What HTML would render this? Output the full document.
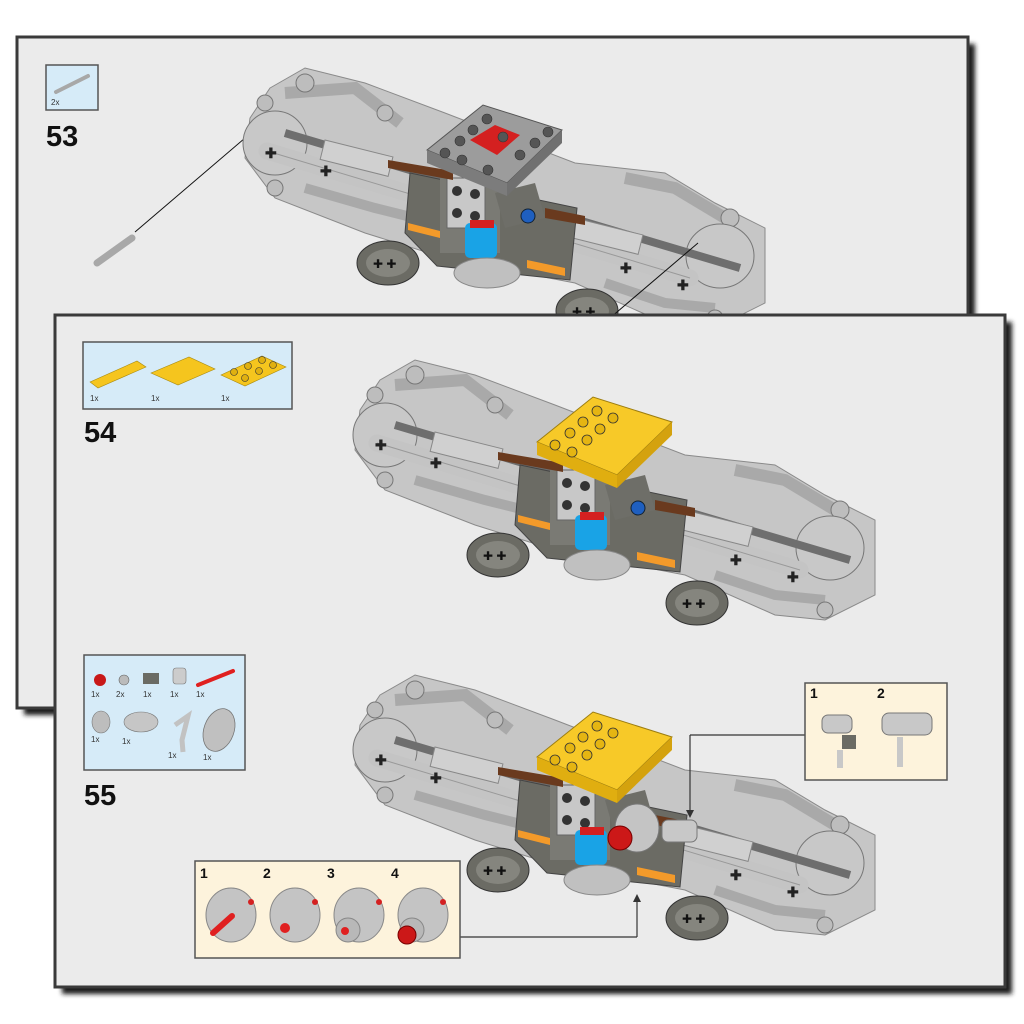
<!DOCTYPE html>
<html><head><meta charset="utf-8"><style>
html,body{margin:0;padding:0;background:#fff;}
svg{display:block;}
text{font-family:"Liberation Sans",Arial,sans-serif;}
</style></head><body>
<svg width="1024" height="1024" viewBox="0 0 1024 1024" xmlns="http://www.w3.org/2000/svg">
<defs>
<filter id="sh" x="-5%" y="-5%" width="115%" height="115%"><feGaussianBlur stdDeviation="2.5"/></filter>
<g id="model">
  <polygon points="25,20 60,0 120,15 200,45 330,95 420,105 470,135 520,160 520,235 470,260 420,255 330,215 200,190 120,165 30,130 0,90 5,50" fill="#c6c6c6" stroke="#8a8a8a" stroke-width="1"/>
  <polyline points="40,25 110,20 155,55" fill="none" stroke="#a9a9a9" stroke-width="12"/>
  <polyline points="380,110 430,120 480,150" fill="none" stroke="#a9a9a9" stroke-width="12"/>
  <polyline points="60,120 130,140 170,150" fill="none" stroke="#a9a9a9" stroke-width="10"/>
  <polyline points="360,215 420,235 470,240" fill="none" stroke="#a9a9a9" stroke-width="10"/>
  <circle cx="60" cy="15" r="9" fill="#bdbdbd" stroke="#777"/><circle cx="20" cy="35" r="8" fill="#bdbdbd" stroke="#777"/>
  <circle cx="140" cy="45" r="8" fill="#bdbdbd" stroke="#777"/><circle cx="30" cy="120" r="8" fill="#bdbdbd" stroke="#777"/>
  <circle cx="470" cy="250" r="8" fill="#bdbdbd" stroke="#777"/><circle cx="485" cy="150" r="9" fill="#bdbdbd" stroke="#777"/>
  <ellipse cx="30" cy="75" rx="32" ry="32" fill="#c8c8c8" stroke="#777" stroke-width="1"/>
  <ellipse cx="475" cy="188" rx="34" ry="32" fill="#c8c8c8" stroke="#777" stroke-width="1"/>
  <line x1="40" y1="65" x2="495" y2="200" stroke="#6e6e6e" stroke-width="8"/>
  <line x1="22" y1="83" x2="445" y2="210" stroke="#c4c4c4" stroke-width="17" stroke-linecap="round"/>
  <line x1="22" y1="83" x2="445" y2="210" stroke="#999" stroke-width="1"/>
  <rect x="80" y="72" width="70" height="20" fill="#d0d0d0" stroke="#888" transform="rotate(14 80 72)"/>
  <rect x="330" y="150" width="70" height="20" fill="#d0d0d0" stroke="#888" transform="rotate(14 330 150)"/>
  <text x="20" y="90" font-size="14" font-weight="bold" fill="#222">✚</text>
  <text x="75" y="108" font-size="14" font-weight="bold" fill="#222">✚</text>
  <text x="375" y="205" font-size="14" font-weight="bold" fill="#222">✚</text>
  <text x="432" y="222" font-size="14" font-weight="bold" fill="#222">✚</text>
  <polygon points="165,105 332,140 325,212 192,198 160,165" fill="#6b6b64" stroke="#444" stroke-width="1"/>
  <rect x="195" y="110" width="60" height="75" fill="#7a7a74"/>
  <rect x="202" y="110" width="38" height="50" fill="#c8c8c8" stroke="#666"/>
  <circle cx="212" cy="123" r="5" fill="#333"/><circle cx="230" cy="126" r="5" fill="#333"/>
  <circle cx="212" cy="145" r="5" fill="#333"/><circle cx="230" cy="148" r="5" fill="#333"/>
  <polygon points="250,125 290,115 300,150 260,160" fill="#6e6e68"/>
  <circle cx="283" cy="148" r="7" fill="#1f5fbf" stroke="#123"/>
  <polygon points="143,92 208,103 208,112 143,100" fill="#6a3a1e"/>
  <polygon points="300,140 340,148 340,157 300,150" fill="#6a3a1e"/>
  <polygon points="163,155 195,163 195,170 163,162" fill="#f39a2a"/>
  <polygon points="282,192 320,200 320,208 282,200" fill="#f39a2a"/>
  <rect x="220" y="155" width="32" height="35" rx="5" fill="#19a3e6"/>
  <rect x="225" y="152" width="24" height="8" fill="#d42020"/>
  <ellipse cx="242" cy="205" rx="33" ry="15" fill="#c0c0c0" stroke="#888"/>
  <ellipse cx="143" cy="195" rx="31" ry="22" fill="#6b6b64" stroke="#333"/>
  <ellipse cx="143" cy="195" rx="22" ry="14" fill="#85857e"/>
  <ellipse cx="342" cy="243" rx="31" ry="22" fill="#6b6b64" stroke="#333"/>
  <ellipse cx="342" cy="243" rx="22" ry="14" fill="#85857e"/>
  <text x="128" y="200" font-size="12" fill="#111">✚ ✚</text>
  <text x="327" y="248" font-size="12" fill="#111">✚ ✚</text>
</g>
</defs>

<!-- PAGE 1 -->
<rect x="24" y="44" width="951" height="671" fill="#1a1a1a" filter="url(#sh)"/>
<rect x="17" y="37" width="951" height="671" fill="#ebebeb" stroke="#3a3a3a" stroke-width="3"/>
<rect x="46" y="65" width="52" height="45" fill="#d6ebf8" stroke="#555" stroke-width="1.5"/>
<line x1="56" y1="92" x2="88" y2="76" stroke="#a8a8a8" stroke-width="4" stroke-linecap="round"/>
<text x="51" y="105" font-size="8" fill="#333">2x</text>
<text x="46" y="146" font-size="29" font-weight="bold" fill="#111">53</text>
<line x1="97" y1="263" x2="132" y2="238" stroke="#a8a8a8" stroke-width="7" stroke-linecap="round"/>
<line x1="135" y1="232" x2="272" y2="115" stroke="#111" stroke-width="1"/>
<use href="#model" transform="translate(245,68)"/>
<polygon points="427,150 483,105 562,130 507,183" fill="#9c9c9c" stroke="#555"/>
<polygon points="427,150 507,183 507,196 427,163" fill="#7c7c7c"/>
<polygon points="507,183 562,130 562,143 507,196" fill="#707070"/>
<polygon points="470,140 495,125 520,135 497,155" fill="#d42020"/>
<g fill="#555" stroke="#333" stroke-width="0.6">
<circle cx="445" cy="153" r="5"/><circle cx="460" cy="141" r="5"/><circle cx="473" cy="130" r="5"/><circle cx="487" cy="119" r="5"/>
<circle cx="462" cy="160" r="5"/><circle cx="503" cy="137" r="5"/><circle cx="520" cy="155" r="5"/><circle cx="535" cy="143" r="5"/><circle cx="548" cy="132" r="5"/><circle cx="488" cy="170" r="5"/></g>
<line x1="610" y1="318" x2="698" y2="243" stroke="#111" stroke-width="1"/>

<!-- PAGE 2 -->
<rect x="62" y="322" width="950" height="672" fill="#1a1a1a" filter="url(#sh)"/>
<rect x="55" y="315" width="950" height="672" fill="#ebebeb" stroke="#3a3a3a" stroke-width="3"/>
<rect x="83" y="342" width="209" height="67" fill="#d6ebf8" stroke="#555" stroke-width="1.5"/>
<polygon points="90,382 137,361 146,367 98,388" fill="#f5c51e" stroke="#a88a10" stroke-width="0.6"/>
<polygon points="151,373 189,357 215,369 178,385" fill="#f5c51e" stroke="#a88a10" stroke-width="0.6"/>
<polygon points="221,375 262,356 286,367 245,386" fill="#f5c51e" stroke="#a88a10" stroke-width="0.6"/>
<circle cx="234" cy="372" r="3.5" fill="#e0b010" stroke="#333" stroke-width="0.6"/><circle cx="245" cy="378" r="3.5" fill="#e0b010" stroke="#333" stroke-width="0.6"/><circle cx="248" cy="366" r="3.5" fill="#e0b010" stroke="#333" stroke-width="0.6"/><circle cx="259" cy="371" r="3.5" fill="#e0b010" stroke="#333" stroke-width="0.6"/><circle cx="262" cy="360" r="3.5" fill="#e0b010" stroke="#333" stroke-width="0.6"/><circle cx="273" cy="365" r="3.5" fill="#e0b010" stroke="#333" stroke-width="0.6"/>
<text x="90" y="401" font-size="8" fill="#333">1x</text><text x="151" y="401" font-size="8" fill="#333">1x</text><text x="221" y="401" font-size="8" fill="#333">1x</text>
<text x="84" y="442" font-size="29" font-weight="bold" fill="#111">54</text>

<use href="#model" transform="translate(355,360)"/>
<polygon points="537,442 593,397 672,422 617,475" fill="#f7c928" stroke="#9c7d10"/>
<polygon points="537,442 617,475 617,488 537,455" fill="#e0ae10"/>
<polygon points="617,475 672,422 672,435 617,488" fill="#d4a20e"/>
<g fill="#e5b512" stroke="#333" stroke-width="0.8">
<circle cx="555" cy="445" r="5"/><circle cx="570" cy="433" r="5"/><circle cx="583" cy="422" r="5"/><circle cx="597" cy="411" r="5"/>
<circle cx="572" cy="452" r="5"/><circle cx="587" cy="440" r="5"/><circle cx="600" cy="429" r="5"/><circle cx="613" cy="418" r="5"/>
</g>

<rect x="84" y="655" width="161" height="115" fill="#d6ebf8" stroke="#555" stroke-width="1.5"/>
<circle cx="100" cy="680" r="6" fill="#c81818"/><circle cx="124" cy="680" r="5" fill="#bbb" stroke="#666" stroke-width="0.6"/>
<rect x="143" y="673" width="16" height="11" fill="#6b6b64"/><rect x="173" y="668" width="13" height="16" rx="3" fill="#ccc" stroke="#777" stroke-width="0.6"/>
<line x1="198" y1="685" x2="233" y2="671" stroke="#e02020" stroke-width="4" stroke-linecap="round"/>
<ellipse cx="101" cy="722" rx="9" ry="11" fill="#bdbdbd" stroke="#777" stroke-width="0.6"/>
<ellipse cx="141" cy="722" rx="17" ry="10" fill="#c6c6c6" stroke="#777" stroke-width="0.6"/>
<polyline points="175,725 188,716 182,740 183,752" fill="none" stroke="#c2c2c2" stroke-width="5"/>
<ellipse cx="219" cy="730" rx="15" ry="22" fill="#c0c0c0" stroke="#777" stroke-width="0.8" transform="rotate(20 219 730)"/>
<g font-size="8" fill="#333"><text x="91" y="697">1x</text><text x="116" y="697">2x</text><text x="143" y="697">1x</text><text x="170" y="697">1x</text><text x="196" y="697">1x</text><text x="91" y="742">1x</text><text x="122" y="744">1x</text><text x="168" y="758">1x</text><text x="203" y="760">1x</text></g>
<text x="84" y="805" font-size="29" font-weight="bold" fill="#111">55</text>

<use href="#model" transform="translate(355,675)"/>
<polygon points="537,757 593,712 672,737 617,790" fill="#f7c928" stroke="#9c7d10"/>
<polygon points="537,757 617,790 617,803 537,770" fill="#e0ae10"/>
<polygon points="617,790 672,737 672,750 617,803" fill="#d4a20e"/>
<g fill="#e5b512" stroke="#333" stroke-width="0.8">
<circle cx="555" cy="760" r="5"/><circle cx="570" cy="748" r="5"/><circle cx="583" cy="737" r="5"/><circle cx="597" cy="726" r="5"/>
<circle cx="572" cy="767" r="5"/><circle cx="587" cy="755" r="5"/><circle cx="600" cy="744" r="5"/><circle cx="613" cy="733" r="5"/>
</g>
<ellipse cx="637" cy="828" rx="22" ry="24" fill="#c4c4c4" stroke="#777"/>
<circle cx="620" cy="838" r="12" fill="#cc1818" stroke="#700"/>
<rect x="662" y="820" width="35" height="22" rx="6" fill="#c8c8c8" stroke="#777"/>

<line x1="805" y1="735" x2="690" y2="735" stroke="#333" stroke-width="1.2"/>
<line x1="690" y1="735" x2="690" y2="812" stroke="#333" stroke-width="1.2"/>
<polygon points="686,810 694,810 690,818" fill="#333"/>
<rect x="805" y="683" width="142" height="97" fill="#fdf3dc" stroke="#555" stroke-width="1.5"/>
<text x="810" y="698" font-size="14" font-weight="bold" fill="#111">1</text>
<text x="877" y="698" font-size="14" font-weight="bold" fill="#111">2</text>
<rect x="822" y="715" width="30" height="18" rx="6" fill="#c8c8c8" stroke="#777"/><rect x="842" y="735" width="14" height="14" fill="#6b6b64"/><rect x="837" y="750" width="6" height="18" fill="#c8c8c8"/>
<rect x="882" y="713" width="50" height="22" rx="7" fill="#c8c8c8" stroke="#777"/><rect x="897" y="737" width="6" height="30" fill="#c8c8c8"/>

<line x1="460" y1="937" x2="637" y2="937" stroke="#333" stroke-width="1.2"/>
<line x1="637" y1="937" x2="637" y2="900" stroke="#333" stroke-width="1.2"/>
<polygon points="633,902 641,902 637,894" fill="#333"/>
<rect x="195" y="861" width="265" height="97" fill="#fdf3dc" stroke="#555" stroke-width="1.5"/>
<g font-size="14" font-weight="bold" fill="#111"><text x="200" y="878">1</text><text x="263" y="878">2</text><text x="327" y="878">3</text><text x="391" y="878">4</text></g>
<g fill="#c4c4c4" stroke="#888">
<ellipse cx="231" cy="915" rx="25" ry="27"/><ellipse cx="295" cy="915" rx="25" ry="27"/><ellipse cx="359" cy="915" rx="25" ry="27"/><ellipse cx="423" cy="915" rx="25" ry="27"/>
<circle cx="348" cy="930" r="12" fill="#b8b8b8"/><circle cx="412" cy="930" r="12" fill="#b8b8b8"/>
</g>
<line x1="213" y1="933" x2="232" y2="916" stroke="#e02020" stroke-width="6" stroke-linecap="round"/>
<circle cx="285" cy="928" r="5" fill="#e02020"/>
<circle cx="345" cy="931" r="4" fill="#e02020"/>
<circle cx="407" cy="935" r="9" fill="#cc1818" stroke="#700"/>
<g fill="#d42020"><circle cx="251" cy="902" r="3"/><circle cx="315" cy="902" r="3"/><circle cx="379" cy="902" r="3"/><circle cx="443" cy="902" r="3"/></g>
</svg>
</body></html>
